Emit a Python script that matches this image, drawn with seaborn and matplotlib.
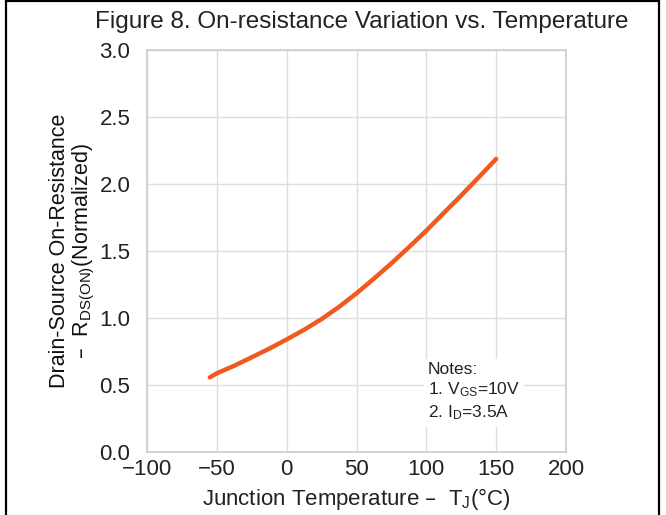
import matplotlib
matplotlib.use("Agg")
import matplotlib.pyplot as plt
import seaborn as sns
import pandas as pd
from matplotlib.patches import Rectangle

# On-resistance vs junction temperature
temp_c = [-55, -50, -37.5, -25, -12.5, 0, 12.5, 25, 37.5, 50, 62.5, 75, 87.5, 100, 112.5, 125, 137.5, 150]
rds_norm = [0.557, 0.587, 0.644, 0.707, 0.771, 0.84, 0.912, 0.992, 1.083, 1.184, 1.294, 1.408, 1.528,
            1.652, 1.784, 1.915, 2.05, 2.187]

x_ticks = [-100, -50, 0, 50, 100, 150, 200]
y_ticks = [0.0, 0.5, 1.0, 1.5, 2.0, 2.5, 3.0]

sns.set_theme(style="whitegrid")
plt.rcParams['font.family'] = ['Liberation Sans', 'DejaVu Sans']
plt.rcParams['axes.unicode_minus'] = True

df = pd.DataFrame({"T": temp_c, "R": rds_norm})

fig = plt.figure(figsize=(6.66, 5.15), dpi=100)
ax = fig.add_axes([147/666, 1-452/515, 419/666, 402/515])

sns.lineplot(data=df, x="T", y="R", ax=ax, color="#f05a1e", linewidth=3.2,
             solid_joinstyle="round", solid_capstyle="round")

ax.set_xlim(-100, 200)
ax.set_ylim(0, 3)
ax.set_xticks(x_ticks)
ax.set_yticks(y_ticks)
ax.set_yticklabels([f"{v:.1f}" for v in y_ticks])
ax.tick_params(axis="both", labelsize=16, colors="#222222", length=0)
ax.tick_params(axis="y", pad=12)
ax.tick_params(axis="x", pad=5)
ax.grid(True, color="#dedede", linewidth=1)
for s in ax.spines.values():
    s.set_color("#cccccc")
    s.set_linewidth(1.2)

ax.set_xlabel("Junction Temperature \u2013  T$\\mathregular{_J}$(\u00b0C)", fontsize=16, color="#222222", labelpad=4)
ax.set_ylabel("Drain-Source On-Resistance\n\u2013  R$\\mathregular{_{DS(ON)}}$(Normalized)", fontsize=15.5,
              color="#111111", labelpad=2, linespacing=1.05)
fig.text(0.543, 1-22/515, "Figure 8. On-resistance Variation vs. Temperature", ha="center", va="center",
         fontsize=17.5, color="#222222")

ax.text(0.67, 0.225, "Notes:\n1. V$\\mathregular{_{GS}}$=10V\n2. I$\\mathregular{_D}$=3.5A", transform=ax.transAxes,
        ha="left", va="top", fontsize=12.5, color="#222222", linespacing=1.3,
        bbox=dict(facecolor="white", edgecolor="none", pad=3))

# outer frame of the figure
fig.patches.append(Rectangle((6/666, -0.05), 653/666, 1.05 - 1.5/515, transform=fig.transFigure,
                             fill=False, edgecolor="black", linewidth=1.6))

fig.savefig("out.png", dpi=100)
